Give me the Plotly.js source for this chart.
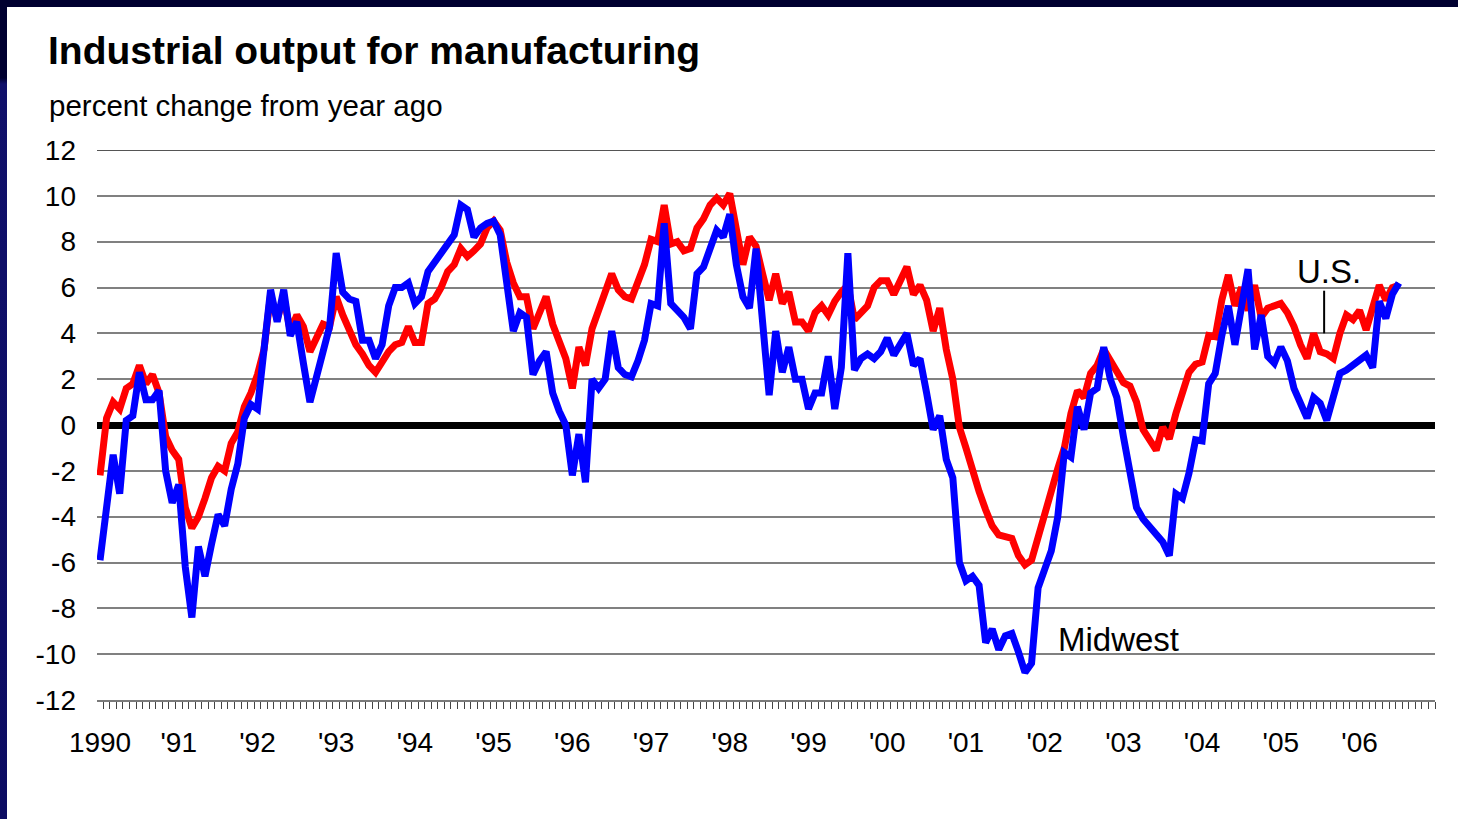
<!DOCTYPE html>
<html>
<head>
<meta charset="utf-8">
<script src="https://cdn.plot.ly/plotly-3.0.1.min.js"></script>
<style>
  html, body { margin: 0; padding: 0; background: #ffffff; }
  #chart { position: absolute; left: 0; top: 0; width: 1458px; height: 819px; }
  .frameTop { position: absolute; left: 0; top: 0; width: 1458px; height: 7px; background: #000030; }
  .frameLeft { position: absolute; left: 0; top: 0; width: 7px; height: 819px;
    background: linear-gradient(to bottom, #000030 0px, #000030 78px, #10106a 84px, #0c0c62 100%); }
</style>
</head>
<body>
<div id="chart"></div>
<div class="frameTop"></div>
<div class="frameLeft"></div>
<script>
// Monthly data, Jan 1990 .. Jul 2006 (percent change from year ago)
const usOutput = [
  // 1990
  -2.2, 0.3, 1.0, 0.7, 1.6, 1.8, 2.6, 1.8, 2.2, 1.4, -0.5, -1.1,
  // 1991
  -1.5, -3.6, -4.5, -4.0, -3.2, -2.3, -1.8, -2.0, -0.8, -0.3, 0.8, 1.4,
  // 1992
  2.2, 3.3, 5.7, 4.6, 5.6, 4.1, 4.8, 4.3, 3.2, 3.9, 4.4, 4.3,
  // 1993
  5.6, 4.8, 4.1, 3.5, 3.1, 2.6, 2.3, 2.8, 3.2, 3.5, 3.6, 4.3,
  // 1994
  3.6, 3.6, 5.3, 5.5, 6.0, 6.7, 7.0, 7.7, 7.35, 7.6, 7.9, 8.6,
  // 1995
  8.9, 8.5, 7.1, 6.2, 5.6, 5.6, 4.2, 4.9, 5.6, 4.4, 3.7, 2.9,
  // 1996
  1.6, 3.4, 2.6, 4.2, 5.0, 5.8, 6.6, 5.9, 5.6, 5.5, 6.3, 7.0,
  // 1997
  8.1, 8.0, 9.6, 7.9, 8.0, 7.6, 7.7, 8.6, 9.0, 9.6, 9.9, 9.6,
  // 1998
  10.1, 8.5, 7.0, 8.2, 7.8, 6.6, 5.45, 6.6, 5.3, 5.8, 4.5, 4.5,
  // 1999
  4.1, 4.9, 5.2, 4.8, 5.4, 5.8, 6.1, 4.6, 4.9, 5.2, 6.0, 6.3,
  // 2000
  6.3, 5.7, 6.3, 6.9, 5.7, 6.1, 5.45, 4.1, 5.1, 3.3, 2.0, -0.1,
  // 2001
  -1.0, -2.1, -2.9, -3.7, -4.4, -4.8, -4.85, -4.95, -5.7, -6.1, -5.9, -4.9,
  // 2002
  -3.7, -2.9, -1.9, -1.0, 0.5, 1.5, 1.2, 2.25, 2.6, 3.3, 2.8, 2.2,
  // 2003
  1.85, 1.7, 1.0, -0.2, -0.6, -1.1, -0.1, -0.6, 0.5, 1.3, 2.3, 2.65,
  // 2004
  2.75, 3.9, 3.85, 5.45, 6.55, 5.2, 6.0, 5.0, 6.1, 4.7, 5.1, 5.2,
  // 2005
  5.3, 4.9, 4.3, 3.5, 2.9, 4.0, 3.2, 3.1, 2.9, 4.0, 4.8, 4.6,
  // 2006
  5.0, 4.15, 5.2, 6.1, 5.45, 6.0, 6.1
];

const midwestOutput = [
  // 1990
  -5.9, -3.5, -1.3, -3.0, 0.2, 0.4, 2.3, 1.1, 1.1, 1.5, -2.0, -3.4,
  // 1991
  -2.6, -6.2, -8.4, -5.3, -6.6, -5.2, -3.9, -4.4, -2.8, -1.7, 0.3, 0.9,
  // 1992
  0.7, 3.3, 5.9, 4.5, 5.9, 3.9, 4.5, 2.7, 1.0, 2.1, 3.2, 4.3,
  // 1993
  7.5, 5.8, 5.5, 5.4, 3.7, 3.7, 2.9, 3.5, 5.2, 6.0, 6.0, 6.2,
  // 1994
  5.3, 5.6, 6.7, 7.1, 7.6, 8.0, 8.3, 9.6, 9.4, 8.2, 8.6, 8.8,
  // 1995
  8.9, 8.3, 6.2, 4.1, 4.9, 4.7, 2.2, 2.8, 3.2, 1.4, 0.6, 0.0,
  // 1996
  -2.2, -0.4, -2.5, 2.0, 1.6, 2.0, 4.1, 2.5, 2.2, 2.1, 2.8, 3.7,
  // 1997
  5.3, 5.2, 8.8, 5.3, 5.0, 4.7, 4.2, 6.6, 6.9, 7.7, 8.5, 8.2,
  // 1998
  9.2, 7.0, 5.6, 5.1, 7.7, 4.5, 1.3, 4.1, 2.3, 3.4, 2.0, 2.0,
  // 1999
  0.7, 1.4, 1.4, 3.0, 0.7, 2.5, 7.5, 2.4, 2.9, 3.1, 2.9, 3.2,
  // 2000
  3.8, 3.05, 3.5, 4.0, 2.6, 2.9, 1.4, -0.2, 0.4, -1.5, -2.3, -6.0,
  // 2001
  -6.8, -6.6, -7.0, -9.5, -8.9, -9.8, -9.2, -9.1, -9.9, -10.8, -10.4, -7.1,
  // 2002
  -6.3, -5.5, -4.0, -1.2, -1.4, 0.8, -0.2, 1.4, 1.6, 3.4, 2.0, 1.2,
  // 2003
  -0.5, -2.1, -3.6, -4.1, -4.4, -4.7, -5.1, -5.7, -3.0, -3.2, -2.1, -0.65,
  // 2004
  -0.7, 1.8, 2.25, 3.9, 5.2, 3.5, 5.2, 6.8, 3.3, 4.8, 3.0, 2.7,
  // 2005
  3.4, 2.8, 1.6, 0.9, 0.3, 1.2, 0.95, 0.2, 1.1, 2.25, 2.4, 2.6,
  // 2006
  2.8, 3.05, 2.5, 5.4, 4.65, 5.7, 6.2
];

const yearLabels = ["1990", "'91", "'92", "'93", "'94", "'95", "'96", "'97", "'98", "'99",
                    "'00", "'01", "'02", "'03", "'04", "'05", "'06"];
const yTickValues = [-12, -10, -8, -6, -4, -2, 0, 2, 4, 6, 8, 10, 12];
const yTickLabels = ["-12", "-10", "-8", "-6", "-4", "-2", "0", "2", "4", "6", "8", "10", "12"];

// month index (0 = Jan 1990)
const monthIndex = usOutput.map((_, i) => i);
const yearTickPositions = yearLabels.map((_, k) => 12 * k);

const FONT = "Liberation Sans, Arial, Helvetica, sans-serif";

const traces = [
  {
    type: "scatter", mode: "lines", name: "U.S.",
    x: monthIndex, y: usOutput,
    line: { color: "#ff0000", width: 7 },
    hoverinfo: "skip"
  },
  {
    type: "scatter", mode: "lines", name: "Midwest",
    x: midwestOutput.map((_, i) => i), y: midwestOutput,
    line: { color: "#0000ff", width: 7 },
    hoverinfo: "skip"
  }
];

const layout = {
  width: 1458, height: 819,
  paper_bgcolor: "#ffffff", plot_bgcolor: "#ffffff",
  margin: { l: 97, r: 23, t: 150, b: 119, pad: 0 },
  showlegend: false,
  font: { family: FONT, color: "#000000" },
  title: {
    text: "Industrial output for manufacturing",
    xref: "container", yref: "container",
    x: 48 / 1458, xanchor: "left",
    y: 1 - 50 / 819, yanchor: "middle",
    font: { family: FONT, size: 39, color: "#000000", weight: 700 }
  },
  xaxis: {
    range: [-0.46, 203.5],
    tickmode: "array", tickvals: yearTickPositions, ticktext: yearLabels,
    ticks: "", showgrid: false, zeroline: false,
    showline: true, linecolor: "#7a7a7a", linewidth: 2,
    tickfont: { family: FONT, size: 28, color: "#000000" },
    ticklabelstandoff: 16,
    minor: { ticks: "outside", tickmode: "linear", tick0: 0.5, dtick: 1,
             ticklen: 7, tickwidth: 1, tickcolor: "#444444", showgrid: false },
    fixedrange: true
  },
  yaxis: {
    range: [-12, 12],
    tickmode: "array", tickvals: yTickValues, ticktext: yTickLabels,
    ticks: "", showgrid: true, gridcolor: "#808080", gridwidth: 2,
    zeroline: true, zerolinecolor: "#000000", zerolinewidth: 7,
    showline: false,
    tickfont: { family: FONT, size: 28, color: "#000000" },
    ticklabelstandoff: 20,
    fixedrange: true
  },
  annotations: [
    {
      text: "percent change from year ago",
      xref: "paper", yref: "paper",
      x: -50 / 1338, y: (700 - 106) / 550,
      xanchor: "left", yanchor: "middle", showarrow: false,
      font: { family: FONT, size: 29.5, color: "#000000" }
    },
    {
      text: "U.S.", xref: "x", yref: "y", x: 187.3, y: 6.72,
      xanchor: "center", yanchor: "middle", showarrow: false,
      font: { family: FONT, size: 33, color: "#000000" }
    },
    {
      text: "Midwest", xref: "x", yref: "y", x: 155.3, y: -9.34,
      xanchor: "center", yanchor: "middle", showarrow: false,
      font: { family: FONT, size: 33, color: "#000000" }
    }
  ],
  shapes: [
    { type: "line", xref: "paper", yref: "y", x0: 0, x1: 1, y0: 12, y1: 12,
      layer: "below", line: { color: "#555555", width: 2 } },
    { type: "line", xref: "x", yref: "y", x0: 186.6, x1: 186.6, y0: 4.0, y1: 5.86,
      line: { color: "#000000", width: 2 } }
  ]
};

Plotly.newPlot("chart", traces, layout, { staticPlot: true, displayModeBar: false });
</script>
</body>
</html>
